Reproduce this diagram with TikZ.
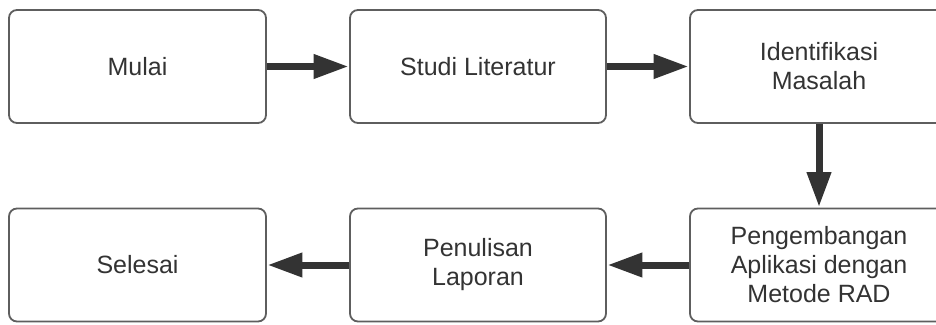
\documentclass[tikz,border=0pt]{standalone}
\usepackage{fontspec}
\setmainfont{Liberation Sans}
\usetikzlibrary{arrows.meta}
\definecolor{boxline}{HTML}{5E5E5E}
\definecolor{ink}{HTML}{333333}
\begin{document}
\begin{tikzpicture}[x=1pt,y=-1pt,
  stepbox/.style={draw=boxline, line width=1.8pt, rounded corners=8pt, fill=white,
    minimum height=113pt, inner sep=0pt, align=center, text=ink,
    font=\fontsize{25}{29}\selectfont},
  flow/.style={draw=ink, line width=7pt,
    -{Triangle[length=35pt,width=23pt]}, shorten >=0.5pt}]
  \useasboundingbox (0,0) rectangle (936,324);
  % top row
  \node[stepbox, minimum width=257pt] (mulai) at (137.5,66.5) {Mulai};
  \node[stepbox, minimum width=256pt] (studi) at (478,66.5) {Studi Literatur};
  \node[stepbox, minimum width=258pt] (ident) at (819,66.5) {Identifikasi\\Masalah};
  % bottom row
  \node[stepbox, minimum width=257pt] (selesai) at (137.5,265) {Selesai};
  \node[stepbox, minimum width=256pt] (tulis) at (478,265) {Penulisan\\Laporan};
  \node[stepbox, minimum width=258pt] (rad) at (819,265) {Pengembangan\\Aplikasi dengan\\Metode RAD};
  % connectors
  \draw[flow] (mulai) -- (studi);
  \draw[flow] (studi) -- (ident);
  \draw[flow] (ident) -- (rad);
  \draw[flow] (rad) -- (tulis);
  \draw[flow] (tulis) -- (selesai);
\end{tikzpicture}
\end{document}
